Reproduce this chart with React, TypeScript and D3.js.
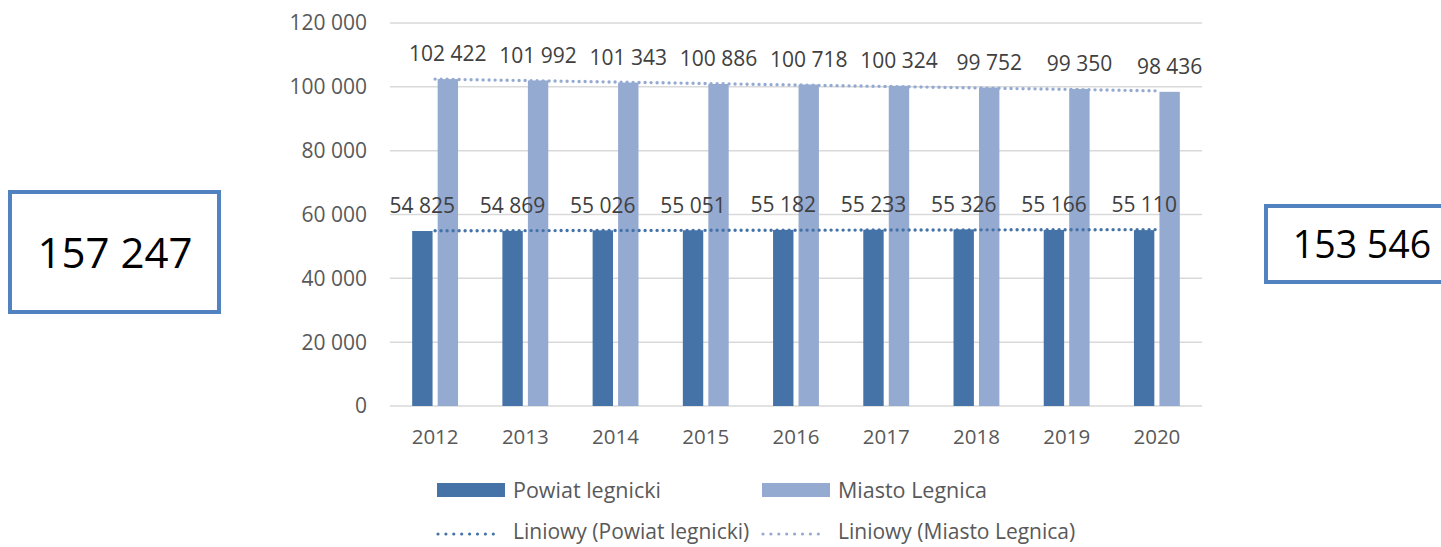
import React from 'react';
import * as d3 from 'd3';

const years = ['2012', '2013', '2014', '2015', '2016', '2017', '2018', '2019', '2020'];
const powiat = [54825, 54869, 55026, 55051, 55182, 55233, 55326, 55166, 55110];
const miasto = [102422, 101992, 101343, 100886, 100718, 100324, 99752, 99350, 98436];
const yTicks = [0, 20000, 40000, 60000, 80000, 100000, 120000];
const totalLeft = '157 247';
const totalRight = '153 546';

const W = 1441;
const H = 547;
const DARK = '#4573a8';
const LIGHT = '#95aad1';
const FONT = '"Open Sans", sans-serif';

const fmt = (v: number) => d3.format(',')(v).replace(/,/g, ' ');

// least squares line over category index, as Excel's "Liniowy" trend
function trend(vals: number[]) {
  const xs = vals.map((_, i) => i + 1);
  const mx = d3.mean(xs)!;
  const my = d3.mean(vals)!;
  const b = d3.sum(xs, (x, i) => (x - mx) * (vals[i] - my)) / d3.sum(xs, x => (x - mx) ** 2);
  const a = my - b * mx;
  return xs.map(x => a + b * x);
}

export default function App() {
  const x = d3.scaleBand().domain(years).range([390, 1202]);
  const y = d3.scaleLinear().domain([0, 120000]).range([406, 23]);
  const inner = d3.scaleBand().domain(['p', 'm']).range([0, x.bandwidth()]).paddingInner(0.2).paddingOuter(0.87);

  const line = d3
    .line<number>()
    .x((_, i) => x(years[i])! + x.bandwidth() / 2)
    .y(v => y(v));

  const series = [
    { key: 'p', vals: powiat, color: DARK },
    { key: 'm', vals: miasto, color: LIGHT },
  ];

  return (
    <svg width={W} height={H} style={{ position: 'absolute', left: 0, top: 0 }} fontFamily={FONT}>
      <rect width={W} height={H} fill="#fff" />
      {yTicks.map(t => (
        <g key={t}>
          <line x1={390} x2={1202} y1={y(t)} y2={y(t)} stroke="#d9d9d9" strokeWidth={1.5} />
          <text x={367} y={y(t)} dy="0.35em" textAnchor="end" fontSize={21} fill="#595959">
            {fmt(t)}
          </text>
        </g>
      ))}
      {years.map(yr => (
        <text key={yr} x={x(yr)! + x.bandwidth() / 2} y={437} dy="0.35em" textAnchor="middle" fontSize={20.5} fill="#595959">
          {yr}
        </text>
      ))}
      {series.map(s => (
        <g key={s.key}>
          {s.vals.map((v, i) => (
            <rect
              key={i}
              x={x(years[i])! + inner(s.key)!}
              y={y(v)}
              width={inner.bandwidth()}
              height={y(0) - y(v)}
              fill={s.color}
            />
          ))}
        </g>
      ))}
      {series.map(s => (
        <path
          key={'t' + s.key}
          d={line(trend(s.vals))!}
          fill="none"
          stroke={s.color}
          strokeWidth={3.4}
          strokeDasharray="0 6"
          strokeLinecap="round"
        />
      ))}
      {series.map(s => (
        <g key={'l' + s.key}>
          {s.vals.map((v, i) => (
            <text
              key={i}
              x={x(years[i])! + inner(s.key)! + inner.bandwidth() / 2}
              y={y(v) - 25}
              dy="0.35em"
              textAnchor="middle"
              fontSize={21}
              fill="#404040"
            >
              {fmt(v)}
            </text>
          ))}
        </g>
      ))}

      {/* legend */}
      <rect x={437} y={483} width={68} height={14} fill={DARK} />
      <text x={513} y={490} dy="0.35em" fontSize={21.5} fill="#595959">Powiat legnicki</text>
      <rect x={762} y={483} width={68} height={14} fill={LIGHT} />
      <text x={838} y={490} dy="0.35em" fontSize={21.5} fill="#595959">Miasto Legnica</text>
      <line x1={438} x2={501} y1={534} y2={534} stroke={DARK} strokeWidth={3.2} strokeDasharray="0 7.9" strokeLinecap="round" />
      <text x={513} y={532} dy="0.35em" fontSize={21} fill="#595959">Liniowy (Powiat legnicki)</text>
      <line x1={763} x2={826} y1={534} y2={534} stroke={LIGHT} strokeWidth={3.2} strokeDasharray="0 7.9" strokeLinecap="round" />
      <text x={838} y={532} dy="0.35em" fontSize={21} fill="#595959">Liniowy (Miasto Legnica)</text>

      {/* total boxes */}
      <rect x={10} y={192} width={209} height={120} fill="#fff" stroke="#5283c0" strokeWidth={4} />
      <text x={115} y={253} dy="0.35em" textAnchor="middle" fontSize={42} fill="#000">{totalLeft}</text>
      <rect x={1266} y={206} width={190} height={76} fill="#fff" stroke="#5283c0" strokeWidth={4} />
      <text x={1362} y={245} dy="0.35em" textAnchor="middle" fontSize={37.5} fill="#000">{totalRight}</text>
    </svg>
  );
}
